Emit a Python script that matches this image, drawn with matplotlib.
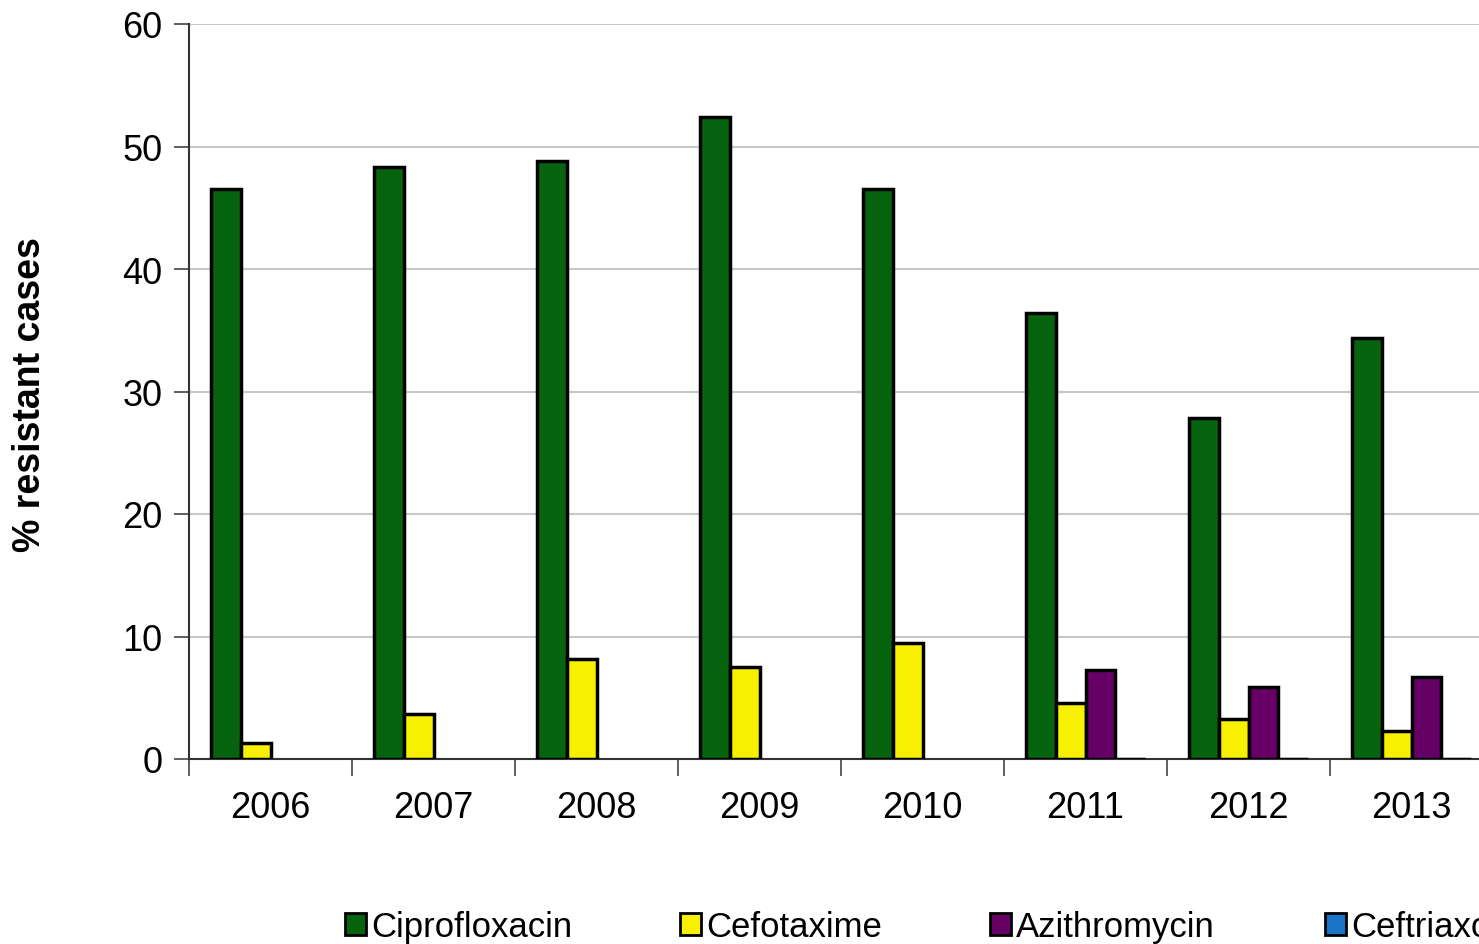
import numpy as np
import matplotlib.pyplot as plt
from matplotlib.patches import Patch

years = ["2006", "2007", "2008", "2009", "2010", "2011", "2012", "2013"]
cipro = [46.5, 48.3, 48.8, 52.4, 46.5, 36.4, 27.8, 34.4]
cefotax = [1.3, 3.7, 8.2, 7.5, 9.5, 4.6, 3.3, 2.3]
azithro = [np.nan, np.nan, np.nan, np.nan, np.nan, 7.3, 5.9, 6.7]
ceftriax = [np.nan, np.nan, np.nan, np.nan, np.nan, 0, 0, 0]
names = ["Ciprofloxacin", "Cefotaxime", "Azithromycin", "Ceftriaxone"]
colors = ["#06640f", "#f7f000", "#660066", "#1a74c8"]

plt.rcParams['font.family'] = ['Liberation Sans', 'DejaVu Sans']

fig = plt.figure(figsize=(14.79, 9.45), dpi=100)
# axes run past the right edge like the cropped original
ax = fig.add_axes([189/1479, 185/945, 1304/1479, 735/945])

x = np.arange(len(years))
w = 0.184
series = [cipro, cefotax, azithro, ceftriax]
for i, vals in enumerate(series):
    ax.bar(x + (i - 1.5) * w, vals, w, color=colors[i], edgecolor="black",
           linewidth=2.5, zorder=3)

ax.set_xlim(-0.5, len(years) - 0.5)
ax.set_ylim(0, 60)
ax.set_yticks(range(0, 61, 10))
ax.tick_params(axis='y', labelsize=26, length=11, width=1.2, color="#444444", pad=8)
ax.set_xticks(x)
ax.set_xticklabels(years)
ax.set_xticks(np.arange(-0.5, len(years), 1), minor=True)
ax.tick_params(axis='x', which='major', length=0, labelsize=26, pad=22)
ax.tick_params(axis='x', which='minor', length=12, width=1.2, color="#444444")

ax.yaxis.grid(True, color="#c8c8c8", linewidth=1.5, zorder=0)
ax.set_axisbelow(True)
for s in ["top", "right"]:
    ax.spines[s].set_visible(False)
for s in ["left", "bottom"]:
    ax.spines[s].set_color("#333333")
    ax.spines[s].set_linewidth(1.5)

fig.text(30/1479, 1 - 395/945, "% resistant cases", rotation=90, fontsize=27,
         fontweight="bold", ha="center", va="center")

leg_x = [345, 680, 990, 1325]
for i in range(4):
    h = Patch(facecolor=colors[i], edgecolor="black", linewidth=2)
    fig.legend(handles=[h], labels=[names[i]], loc="center left",
               bbox_to_anchor=(leg_x[i]/1479, 1 - 928/945), frameon=False,
               fontsize=25, handlelength=0.6, handleheight=0.6,
               handletextpad=0.15, borderpad=0, borderaxespad=0)

plt.savefig("out.png", dpi=100)
